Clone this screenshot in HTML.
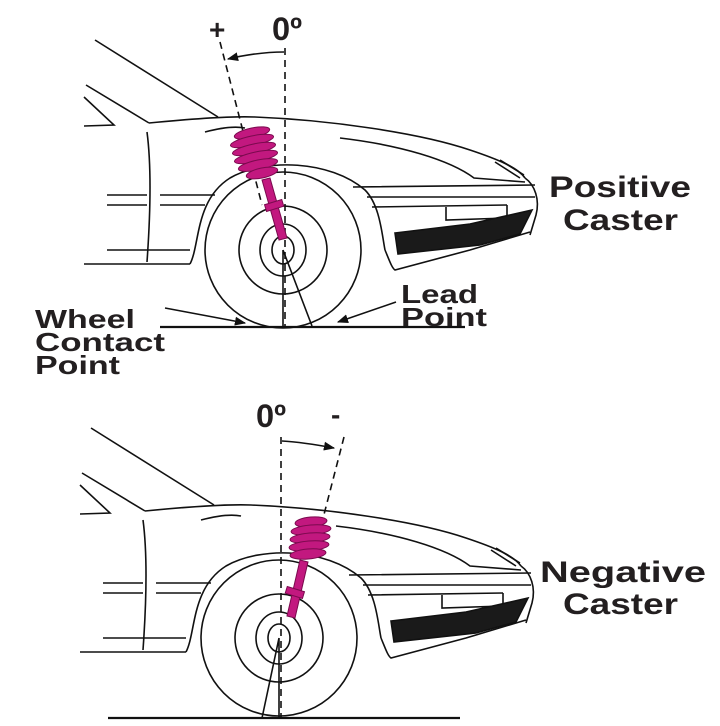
<!DOCTYPE html>
<html><head><meta charset="utf-8"><style>
html,body{margin:0;padding:0;background:#fff;}
svg{display:block;}
text{font-family:"Liberation Sans",sans-serif;font-weight:bold;fill:#231f20;}
</style></head><body>
<svg width="720" height="726" viewBox="0 0 720 726" xmlns="http://www.w3.org/2000/svg">
<defs>
<marker id="ah" viewBox="0 0 10 10" refX="9" refY="5" markerWidth="7" markerHeight="7" orient="auto"><path d="M0,1 L10,5 L0,9 z" fill="#111"/></marker>
<g id="car" fill="none" stroke="#111" stroke-width="1.6">
  <path d="M95,40 L218,117"/>
  <path d="M86,85 L149,123"/>
  <path d="M84,97 L114,125 L84,126"/>
  <path d="M149,123 C190,119 230,116 255,117 C330,120 420,133 470,150 C500,160 518,168 525,178"/>
  <path d="M205,132 C220,128 235,126 245,128"/>
  <path d="M340,138 C400,145 450,160 474,178 L525,182"/>
  <path d="M495,162 L520,178 M500,160 L524,175"/>
  <path d="M525,178 C535,185 540,200 536,215 L530,235"/>
  <path d="M353,187 L535,185 M367,197 L535,197 M372,207 L507,205"/>
  <path d="M446,207 L446,220 L507,218 L507,205"/>
  <path d="M385,250 C390,262 392,268 395,270 L470,250 L530,232"/>
  <path d="M395,233 L470,224 L532,210 L520,234 L480,245 L398,254 Z" fill="#1a1a1a"/>
  <path d="M147,132 C152,170 150,220 147,262"/>
  <path d="M107,195 L147,195 M160,195 L215,195 M107,205 L147,205 M160,205 L205,205"/>
  <path d="M107,250 L190,250 M84,264 L190,264"/>
  <path d="M190,264 C200,245 195,200 230,178 C265,158 330,160 365,190 C380,205 382,235 385,250"/>
  <circle cx="283" cy="250" r="78"/>
  <circle cx="283" cy="250" r="44"/>
  <ellipse cx="283" cy="250" rx="23" ry="26"/>
  <ellipse cx="283" cy="250" rx="11" ry="14"/>
</g>
</defs>

<!-- TOP -->
<use href="#car"/>
<g fill="none" stroke="#111" stroke-width="1.6">
  <path d="M283,250 L283,327 M283,250 L312,326"/>
  <path d="M160,327 L465,327" stroke-width="2.2"/>
  <path d="M285,48 L285,327" stroke-dasharray="7,5"/>
  <path d="M220,42 L262,205" stroke-dasharray="7,5"/>
  <path d="M284,52 C265,52 245,55 228,59" marker-end="url(#ah)"/>
  <path d="M165,308 L245,323" marker-end="url(#ah)"/>
  <path d="M396,302 L338,322" marker-end="url(#ah)"/>
</g>
<g fill="#c2187f" stroke="#7a0a4e" stroke-width="1">
  <path d="M262,180 L270,178 L287,238 L279,240 Z"/>
  <rect x="265" y="202" width="18" height="7" transform="rotate(-17 274 205)"/>
  <ellipse cx="252" cy="133" rx="18" ry="5" transform="rotate(-12 252 133)"/>
  <ellipse cx="252" cy="141" rx="22" ry="5" transform="rotate(-12 252 141)"/>
  <ellipse cx="254" cy="149" rx="22" ry="5" transform="rotate(-12 254 149)"/>
  <ellipse cx="256" cy="157" rx="22" ry="5" transform="rotate(-12 256 157)"/>
  <ellipse cx="258" cy="165" rx="20" ry="5" transform="rotate(-12 258 165)"/>
  <ellipse cx="262" cy="173" rx="16" ry="5" transform="rotate(-12 262 173)"/>
</g>
<text x="272" y="40" font-size="32" textLength="30" lengthAdjust="spacingAndGlyphs">0º</text>
<text x="209" y="39" font-size="28">+</text>
<text x="549" y="197" font-size="30" textLength="142" lengthAdjust="spacingAndGlyphs">Positive</text>
<text x="563" y="230" font-size="30" textLength="115" lengthAdjust="spacingAndGlyphs">Caster</text>
<text x="35" y="328" font-size="26" textLength="100" lengthAdjust="spacingAndGlyphs">Wheel</text>
<text x="35" y="351" font-size="26" textLength="130" lengthAdjust="spacingAndGlyphs">Contact</text>
<text x="35" y="374" font-size="26" textLength="85" lengthAdjust="spacingAndGlyphs">Point</text>
<text x="401" y="303" font-size="26" textLength="77" lengthAdjust="spacingAndGlyphs">Lead</text>
<text x="401" y="326" font-size="26" textLength="86" lengthAdjust="spacingAndGlyphs">Point</text>

<!-- BOTTOM -->
<use href="#car" transform="translate(-4,388)"/>
<g fill="none" stroke="#111" stroke-width="1.6">
  <path d="M279,638 L279,718 M279,638 L262,718"/>
  <path d="M108,718 L460,718" stroke-width="2.2"/>
  <path d="M281,437 L281,718" stroke-dasharray="7,5"/>
  <path d="M344,437 L320,530" stroke-dasharray="7,5"/>
  <path d="M282,441 C300,442 318,445 334,448" marker-end="url(#ah)"/>
</g>
<g fill="#c2187f" stroke="#7a0a4e" stroke-width="1">
  <path d="M300,560 L308,562 L295,618 L287,616 Z"/>
  <rect x="286" y="589" width="18" height="7" transform="rotate(17 295 592)"/>
  <ellipse cx="311" cy="522" rx="16" ry="5" transform="rotate(-5 311 522)"/>
  <ellipse cx="311" cy="530" rx="20" ry="5" transform="rotate(-5 311 530)"/>
  <ellipse cx="310" cy="538" rx="20" ry="5" transform="rotate(-5 310 538)"/>
  <ellipse cx="309" cy="546" rx="20" ry="5" transform="rotate(-5 309 546)"/>
  <ellipse cx="308" cy="554" rx="18" ry="5" transform="rotate(-5 308 554)"/>
</g>
<text x="256" y="427" font-size="32" textLength="30" lengthAdjust="spacingAndGlyphs">0º</text>
<text x="331" y="424" font-size="28">-</text>
<text x="540" y="582" font-size="30" textLength="166" lengthAdjust="spacingAndGlyphs">Negative</text>
<text x="563" y="614" font-size="30" textLength="115" lengthAdjust="spacingAndGlyphs">Caster</text>
</svg>
</body></html>
